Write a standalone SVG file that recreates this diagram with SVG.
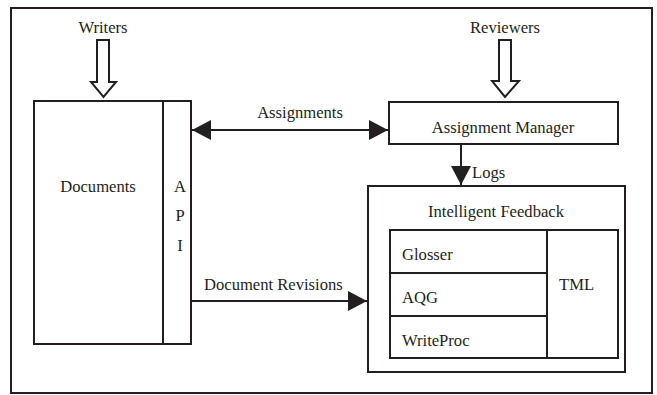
<svg xmlns="http://www.w3.org/2000/svg" width="657" height="395" viewBox="0 0 657 395">
<style>
.b{fill:#fff;stroke:#231f20;stroke-width:2}
.l{fill:none;stroke:#231f20;stroke-width:2}
.h{fill:#fff;stroke:#231f20;stroke-width:2;stroke-linejoin:miter}
text{font-family:"Liberation Serif","Times New Roman",serif;font-size:16.6px;fill:#231f20}
.c{text-anchor:middle}
</style>
<defs>
<marker id="ah" markerWidth="20" markerHeight="20" refX="19" refY="10" orient="auto" markerUnits="userSpaceOnUse">
<path d="M0,0 L19,10 L0,20 Z" fill="#231f20"/>
</marker>
<marker id="as" markerWidth="20" markerHeight="20" refX="19" refY="10" orient="auto-start-reverse" markerUnits="userSpaceOnUse">
<path d="M0,0 L19,10 L0,20 Z" fill="#231f20"/>
</marker>
</defs>
<rect id="frame" x="11" y="8" width="641" height="385" class="l"/>
<g id="writers">
<text x="103" y="33" class="c">Writers</text>
<path d="M97,40 H109 V82 H116 L103.5,97 L91,82 H97 Z" class="h"/>
</g>
<g id="reviewers">
<text x="505" y="33" class="c">Reviewers</text>
<path d="M499,40 H511 V81 H519 L505,97 L492,81 H499 Z" class="h"/>
</g>
<g id="documents">
<rect x="34" y="101" width="129" height="243" class="b"/>
<text x="98" y="192" class="c">Documents</text>
</g>
<g id="api">
<rect x="163" y="101" width="28" height="243" class="b"/>
<text x="180" y="192" class="c">A</text>
<text x="180" y="221" class="c">P</text>
<text x="180" y="251" class="c">I</text>
</g>
<g id="assignment-manager">
<rect x="389" y="102" width="229" height="42" class="b"/>
<text x="503" y="133" class="c">Assignment Manager</text>
</g>
<g id="intelligent-feedback">
<rect x="368" y="186" width="257" height="186" class="b"/>
<text x="496" y="217" class="c">Intelligent Feedback</text>
</g>
<g id="glosser">
<rect x="390" y="230" width="157" height="43" class="b"/>
<text x="402" y="260">Glosser</text>
</g>
<g id="aqg">
<rect x="390" y="273" width="157" height="43" class="b"/>
<text x="402" y="303">AQG</text>
</g>
<g id="writeproc">
<rect x="390" y="316" width="157" height="42" class="b"/>
<text x="402" y="346">WriteProc</text>
</g>
<g id="tml">
<rect x="547" y="230" width="71" height="128" class="b"/>
<text x="559" y="290">TML</text>
</g>
<g id="connectors">
<line x1="192" y1="130" x2="388" y2="130" class="l" marker-start="url(#as)" marker-end="url(#ah)"/>
<text x="300" y="118" class="c">Assignments</text>
<line x1="461" y1="145" x2="461" y2="185" class="l" marker-end="url(#ah)"/>
<text x="472" y="178">Logs</text>
<line x1="192" y1="301" x2="367" y2="301" class="l" marker-end="url(#ah)"/>
<text x="204" y="290">Document Revisions</text>
</g>
</svg>
